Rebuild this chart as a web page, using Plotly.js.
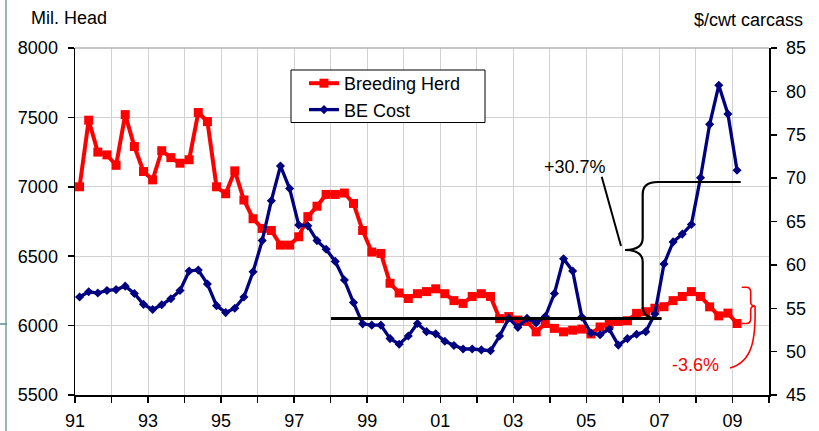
<!DOCTYPE html>
<html>
<head>
<meta charset="utf-8">
<script src="https://cdn.plot.ly/plotly-3.0.1.min.js"></script>
<style>
html,body{margin:0;padding:0;background:#fff;}
#chart{width:819px;height:431px;}
</style>
</head>
<body>
<div id="chart"></div>
<script>
// ---- data (quarterly, 1991Q1 .. 2009Q1) ----
var startYear = 1991;
var breedingHerd = [
  7000, 7480, 7250, 7230,
  7155, 7520, 7290, 7110,
  7050, 7260, 7210, 7170,
  7195, 7535, 7470, 7000,
  6950, 7115, 6905, 6770,
  6700, 6685, 6580, 6580,
  6640, 6785, 6860, 6945,
  6945, 6955, 6880, 6685,
  6530, 6520, 6305, 6235,
  6195, 6230, 6245, 6265,
  6230, 6180, 6160, 6210,
  6230, 6210, 6050, 6065,
  6040, 6030, 5955, 6015,
  5980, 5955, 5967, 5975,
  5940, 5990, 6015, 6030,
  6035, 6088, 6100, 6125,
  6136, 6180, 6210, 6245,
  6210, 6135, 6070, 6090,
  6015
];
var beCost = [
  56.3, 56.9, 56.75, 57.05,
  57.15, 57.55, 56.7, 55.45,
  54.85, 55.4, 56.1, 57.05,
  59.3, 59.4, 57.8, 55.3,
  54.5, 55.0, 56.3, 59.2,
  62.8, 67.4, 71.4, 68.8,
  64.6, 64.5, 62.8, 61.8,
  60.4, 58.25, 55.65, 53.2,
  53.05, 53.05, 51.5, 50.85,
  51.8, 53.25, 52.3, 52.05,
  51.2, 50.7, 50.3, 50.3,
  50.2, 50.1, 51.8, 53.85,
  52.8, 53.85, 53.3, 54.05,
  56.7, 60.7, 59.3, 54.0,
  52.15, 51.95, 52.6, 50.75,
  51.5, 52.0, 52.3, 54.35,
  60.1, 62.65, 63.55, 64.65,
  70.05, 76.2, 80.7, 77.4,
  70.9
];
var yearTicks = [1991,1992,1993,1994,1995,1996,1997,1998,1999,2000,2001,2002,2003,2004,2005,2006,2007,2008,2009,2010];
var yearLabels = ["91","","93","","95","","97","","99","","01","","03","","05","","07","","09",""];
var seriesNames = ["Breeding Herd", "BE Cost"];
var leftTitle = "Mil. Head";
var rightTitle = "$/cwt carcass";
var upLabel = "+30.7%";
var downLabel = "-3.6%";

// quarter mid-points as decimal years
var quarterX = breedingHerd.map(function(_, i){ return startYear + i/4 + 0.125; });

var FONT = "Liberation Sans, Arial, sans-serif";
var FS = 18;

var traces = [
  {
    x: quarterX, y: breedingHerd, name: seriesNames[0],
    type: "scatter", mode: "lines+markers", yaxis: "y",
    line: {color: "#ff0000", width: 4},
    marker: {symbol: "square", size: 9, color: "#ff0000"}
  },
  {
    x: quarterX, y: beCost, name: seriesNames[1],
    type: "scatter", mode: "lines+markers", yaxis: "y2",
    line: {color: "#000080", width: 3.3},
    marker: {symbol: "diamond", size: 7, color: "#000080"}
  }
];

var gridC = "#d2d2d2";
var layout = {
  width: 819, height: 431,
  margin: {l: 75, r: 50, t: 48, b: 36, pad: 0},
  paper_bgcolor: "#ffffff", plot_bgcolor: "#ffffff",
  font: {family: FONT, size: FS, color: "#000"},
  showlegend: true,
  legend: {
    x: (304 - 75)/694, y: (395 - 65)/347, xanchor: "left", yanchor: "top",
    bgcolor: "rgba(0,0,0,0)", borderwidth: 0,
    font: {family: FONT, size: FS, color: "#000"}
  },
  hovermode: false,
  xaxis: {
    range: [1991, 2010], tickmode: "array", tickvals: yearTicks, ticktext: yearLabels,
    ticks: "outside", ticklen: 6, tickwidth: 1.5, tickcolor: "#000",
    showline: true, linecolor: "#000", linewidth: 1.5,
    showgrid: true, gridcolor: gridC, gridwidth: 1, zeroline: false,
    tickfont: {family: FONT, size: FS, color: "#000"}, ticklabelstandoff: 3
  },
  yaxis: {
    range: [5500, 8000], dtick: 500, tick0: 5500,
    ticks: "outside", ticklen: 6, tickwidth: 1.5, tickcolor: "#000",
    showline: true, linecolor: "#000", linewidth: 1.5,
    showgrid: true, gridcolor: gridC, gridwidth: 1, zeroline: false,
    tickfont: {family: FONT, size: FS, color: "#000"}, ticklabelstandoff: 6
  },
  yaxis2: {
    overlaying: "y", side: "right", anchor: "x",
    range: [45, 85], dtick: 5, tick0: 45,
    ticks: "outside", ticklen: 6, tickwidth: 1.5, tickcolor: "#000",
    showline: true, linecolor: "#000", linewidth: 1.5,
    showgrid: false, zeroline: false,
    tickfont: {family: FONT, size: FS, color: "#000"}, ticklabelstandoff: 6
  },
  annotations: [
    {text: leftTitle, xref: "paper", yref: "paper", x: (29-75)/694, y: (395-18)/347,
     xanchor: "left", yanchor: "middle", showarrow: false, font: {family: FONT, size: FS, color: "#000"}},
    {text: rightTitle, xref: "paper", yref: "paper", x: (805-75)/694, y: (395-20)/347,
     xanchor: "right", yanchor: "middle", showarrow: false, font: {family: FONT, size: FS, color: "#000"}},
    {text: upLabel, xref: "x", yref: "y2", x: 2004.69, y: 71.28,
     xanchor: "center", yanchor: "middle", showarrow: false, font: {family: FONT, size: FS, color: "#000"}},
    {text: downLabel, xref: "x", yref: "y2", x: 2007.99, y: 48.46,
     xanchor: "center", yanchor: "middle", showarrow: false, font: {family: FONT, size: FS, color: "#ff0000"}}
  ],
  shapes: [
    // slide decoration on the left edge
    {type: "line", xref: "paper", yref: "paper", x0: (6-75)/694, x1: (6-75)/694, y0: (395+40)/347, y1: (395-440)/347,
     line: {color: "#9db7b7", width: 2}},
    {type: "line", xref: "paper", yref: "paper", x0: (0-75)/694, x1: (7-75)/694, y0: (395-324)/347, y1: (395-324)/347,
     line: {color: "#5f8f8f", width: 1.5}},
    // top border
    {type: "line", xref: "paper", yref: "paper", x0: 0, x1: 1, y0: 1, y1: 1, line: {color: "#b4b4b4", width: 1.5}},
    // legend box
    {type: "rect", xref: "paper", yref: "paper", x0: (291-75)/694, x1: (485-75)/694, y0: (395-70)/347, y1: (395-122.5)/347,
     fillcolor: "#ffffff", line: {color: "#000", width: 1}, layer: "above"},
    // base line
    {type: "line", xref: "x", yref: "y2", x0: 1998.01, x1: 2007.06, y0: 53.818, y1: 53.818,
     line: {color: "#000", width: 3}, layer: "above"},
    // black brace with top line
    {type: "path", xref: "x", yref: "y2", layer: "above",
     path: "M 2009.225,69.553 L 2006.961,69.553 Q 2006.542,69.553 2006.542,68.170 L 2006.542,63.098 Q 2006.542,61.715 2006.058,61.715 Q 2006.542,61.715 2006.542,60.331 L 2006.542,55.259 Q 2006.542,53.818 2006.961,53.818",
     line: {color: "#000", width: 2.2}},
    // leader to +30.7%
    {type: "line", xref: "x", yref: "y2", x0: 2005.42, y0: 70.164, x1: 2005.948, y1: 62.176,
     line: {color: "#000", width: 2}, layer: "above"},
    // red bracket
    {type: "path", xref: "x", yref: "y2", layer: "above",
     path: "M 2009.253,57.415 L 2009.371,57.415 Q 2009.499,57.415 2009.499,56.873 L 2009.499,55.720 Q 2009.499,55.259 2009.617,55.259 Q 2009.499,55.259 2009.499,54.798 L 2009.499,53.761 Q 2009.499,53.242 2009.371,53.242 L 2009.253,53.242",
     line: {color: "#ff0000", width: 1.6}},
    {type: "path", xref: "x", yref: "y2", layer: "above",
     path: "M 2009.617,55.259 C 2009.644,51.340 2009.535,48.804 2008.932,48.112",
     line: {color: "#ff0000", width: 1.6}}
  ]
};

Plotly.newPlot("chart", traces, layout, {displayModeBar: false, staticPlot: true});
</script>
</body>
</html>
